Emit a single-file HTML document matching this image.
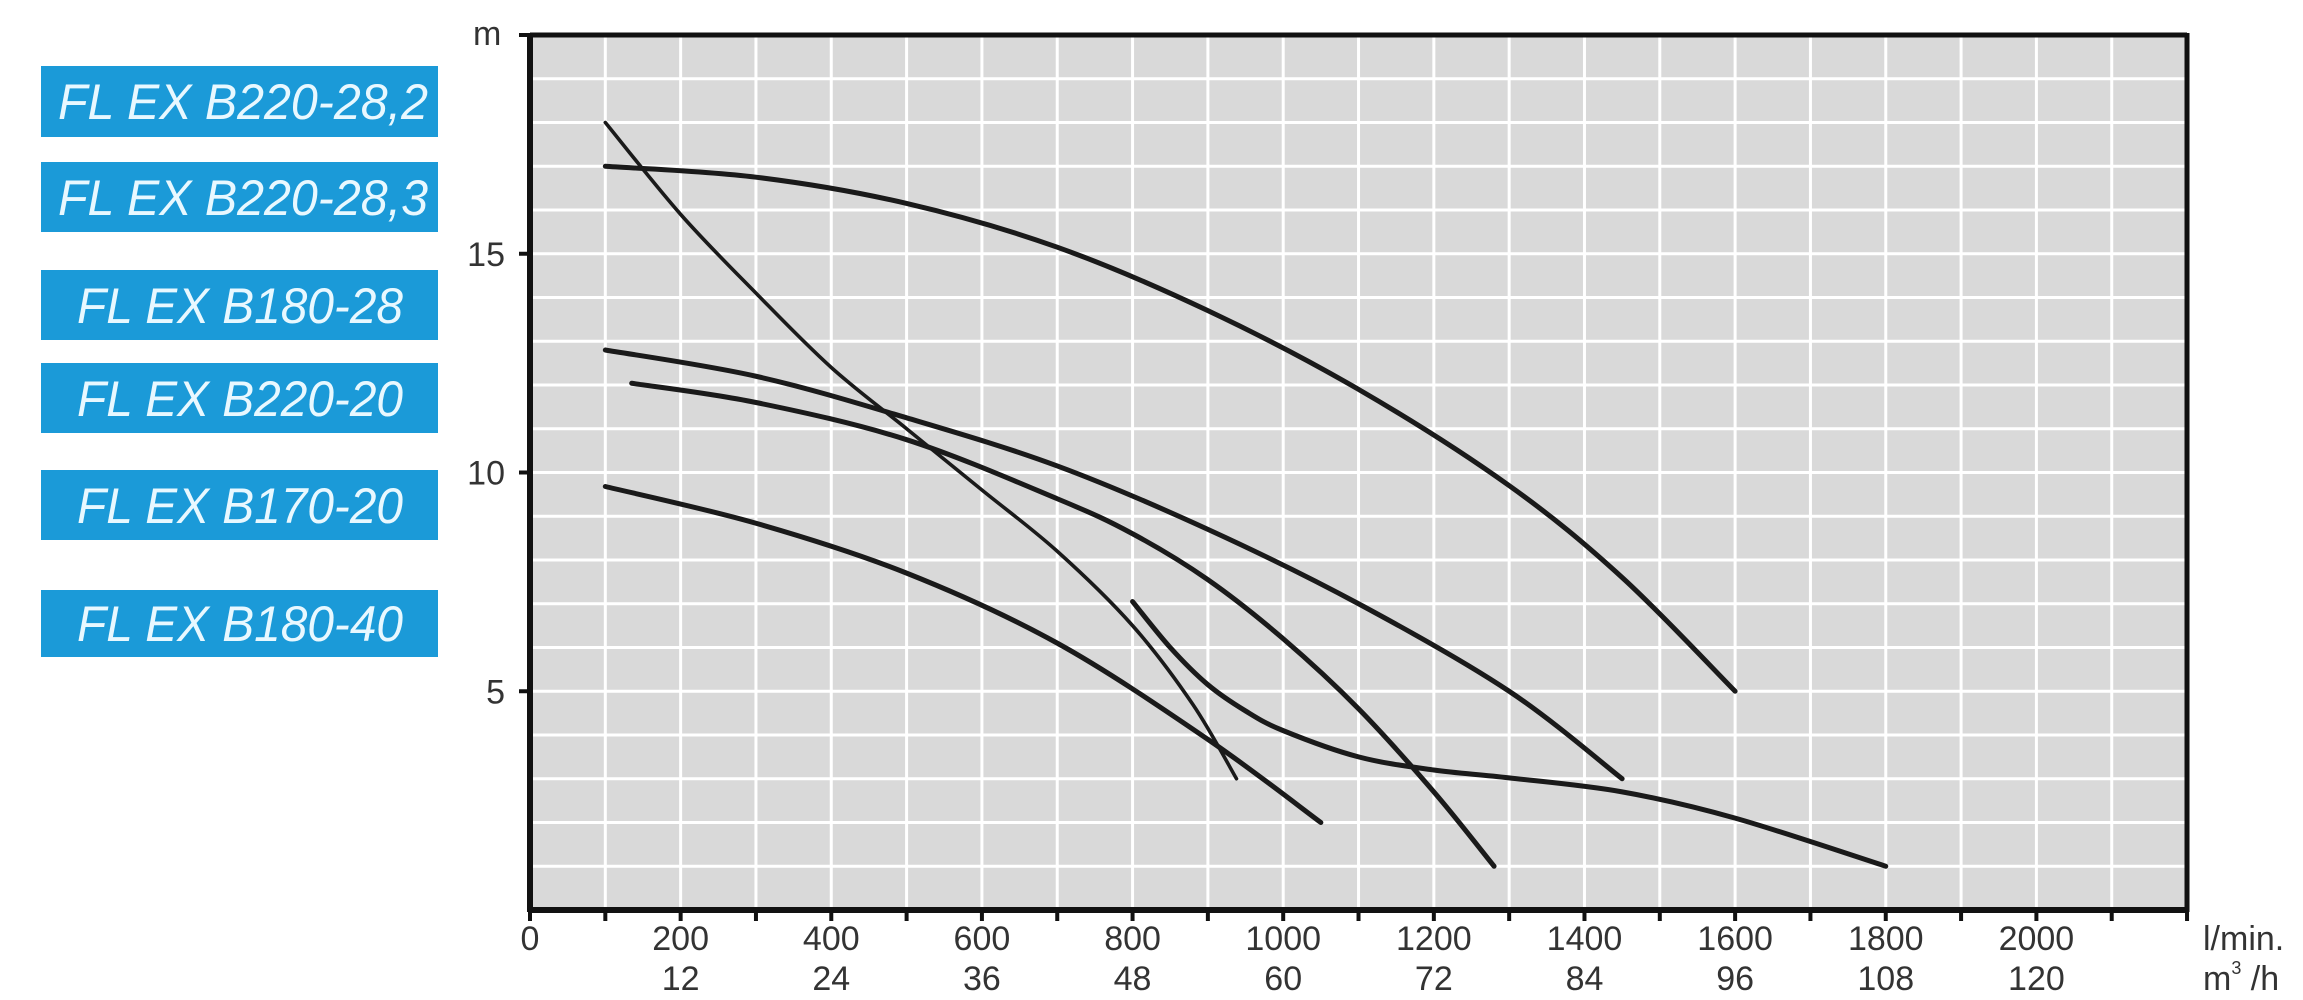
<!DOCTYPE html>
<html><head><meta charset="utf-8"><style>
html,body{margin:0;padding:0;background:#fff;}
svg{display:block;}
.lg{fill:#1b9ad8;}
.lt{font-family:"Liberation Sans",sans-serif;font-style:italic;font-size:50px;fill:#e8f8ff;}
.tk{font-family:"Liberation Sans",sans-serif;font-size:34px;fill:#333;}
</style></head><body>
<svg id="s" width="2303" height="1000" viewBox="0 0 2303 1000" xmlns="http://www.w3.org/2000/svg">
<rect class="lg" x="41" y="66" width="397" height="71"/>
<rect class="lg" x="41" y="162" width="397" height="70"/>
<rect class="lg" x="41" y="270" width="397" height="70"/>
<rect class="lg" x="41" y="363" width="397" height="70"/>
<rect class="lg" x="41" y="470" width="397" height="70"/>
<rect class="lg" x="41" y="590" width="397" height="67"/>
<text class="lt" x="58" y="119" textLength="370" lengthAdjust="spacingAndGlyphs">FL EX  B220-28,2</text>
<text class="lt" x="58" y="215" textLength="370" lengthAdjust="spacingAndGlyphs">FL EX  B220-28,3</text>
<text class="lt" x="77" y="323" textLength="326" lengthAdjust="spacingAndGlyphs">FL EX  B180-28</text>
<text class="lt" x="77" y="416" textLength="326" lengthAdjust="spacingAndGlyphs">FL EX  B220-20</text>
<text class="lt" x="77" y="523" textLength="326" lengthAdjust="spacingAndGlyphs">FL EX  B170-20</text>
<text class="lt" x="77" y="641" textLength="326" lengthAdjust="spacingAndGlyphs">FL EX  B180-40</text>
<rect x="530" y="35" width="1657" height="875" fill="#d9d9d9"/>
<g id="grid" stroke="#fff" stroke-width="3"></g>
<g id="curves" fill="none" stroke="#1a1a1a" stroke-linecap="round" stroke-linejoin="round"></g>
<g stroke="#111" fill="none">
<line x1="530" y1="35" x2="2187" y2="35" stroke-width="5"/>
<line x1="2187" y1="33" x2="2187" y2="912" stroke-width="5"/>
<line x1="530" y1="33" x2="530" y2="912" stroke-width="6"/>
<line x1="528" y1="910" x2="2189" y2="910" stroke-width="6"/>
</g>
<g id="ticks" stroke="#111" stroke-width="4"></g>
<g id="labs"></g>
<text class="tk" x="473" y="45">m</text>
<text class="tk" x="2203" y="950">l/min.</text>
<text class="tk" x="2203" y="990">m<tspan font-size="18" dy="-16">3</tspan><tspan dy="16"> /h</tspan></text>
</svg>
<script>
var NS="http://www.w3.org/2000/svg";
function X(f){return 530+f*0.7532;}
function Y(h){return 910-h*43.75;}
function el(p,tag,a,txt){var e=document.createElementNS(NS,tag);for(var k in a)e.setAttribute(k,a[k]);if(txt!=null)e.textContent=txt;document.getElementById(p).appendChild(e);}
for(var f=100;f<=2100;f+=100)el("grid","line",{x1:X(f),y1:35,x2:X(f),y2:910});
for(var h=1;h<=19;h++)el("grid","line",{x1:530,y1:Y(h),x2:2187,y2:Y(h)});
for(var f=0;f<=2200;f+=100)el("ticks","line",{x1:X(f),y1:910,x2:X(f),y2:921});
[5,10,15,20].forEach(function(h){el("ticks","line",{x1:519,y1:Y(h),x2:530,y2:Y(h)});if(h!=20)el("labs","text",{"class":"tk","x":505,"y":Y(h)+12,"text-anchor":"end"},String(h));});
el("labs","text",{"class":"tk","x":X(0),"y":950,"text-anchor":"middle"},"0");
for(var f=200;f<=2000;f+=200){el("labs","text",{"class":"tk","x":X(f),"y":950,"text-anchor":"middle"},String(f));el("labs","text",{"class":"tk","x":X(f),"y":990,"text-anchor":"middle"},String(f*0.06));}
function cr(pts){var P=pts.map(function(p){return[X(p[0]),Y(p[1])];});var d="M"+P[0][0]+","+P[0][1];
for(var i=0;i<P.length-1;i++){var p0=P[i-1]||P[i],p1=P[i],p2=P[i+1],p3=P[i+2]||P[i+1];
d+=" C"+(p1[0]+(p2[0]-p0[0])/6)+","+(p1[1]+(p2[1]-p0[1])/6)+" "+(p2[0]-(p3[0]-p1[0])/6)+","+(p2[1]-(p3[1]-p1[1])/6)+" "+p2[0]+","+p2[1];}return d;}
var C=[
[[[100,17],[300,16.75],[500,16.15],[700,15.15],[900,13.7],[1100,11.9],[1300,9.7],[1450,7.6],[1600,5.0]],5],
[[[100,18.0],[200,15.9],[300,14.1],[400,12.4],[500,11.0],[600,9.6],[700,8.2],[800,6.5],[880,4.7],[938,3.0]],3.6],
[[[100,12.8],[300,12.2],[500,11.25],[700,10.15],[900,8.7],[1100,7.0],[1300,5.0],[1450,3.0]],5],
[[[135,12.04],[300,11.6],[500,10.75],[700,9.4],[800,8.6],[900,7.55],[1000,6.2],[1100,4.6],[1200,2.7],[1280,1.0]],5],
[[[100,9.68],[300,8.84],[500,7.7],[700,6.1],[900,3.9],[1050,2.0]],5],
[[[800,7.05],[850,6.0],[900,5.15],[950,4.55],[1000,4.1],[1100,3.5],[1200,3.2],[1300,3.02],[1450,2.7],[1600,2.1],[1800,1.0]],5]
];
C.forEach(function(c){el("curves","path",{d:cr(c[0]),"stroke-width":c[1]});});
</script>
</body></html>
